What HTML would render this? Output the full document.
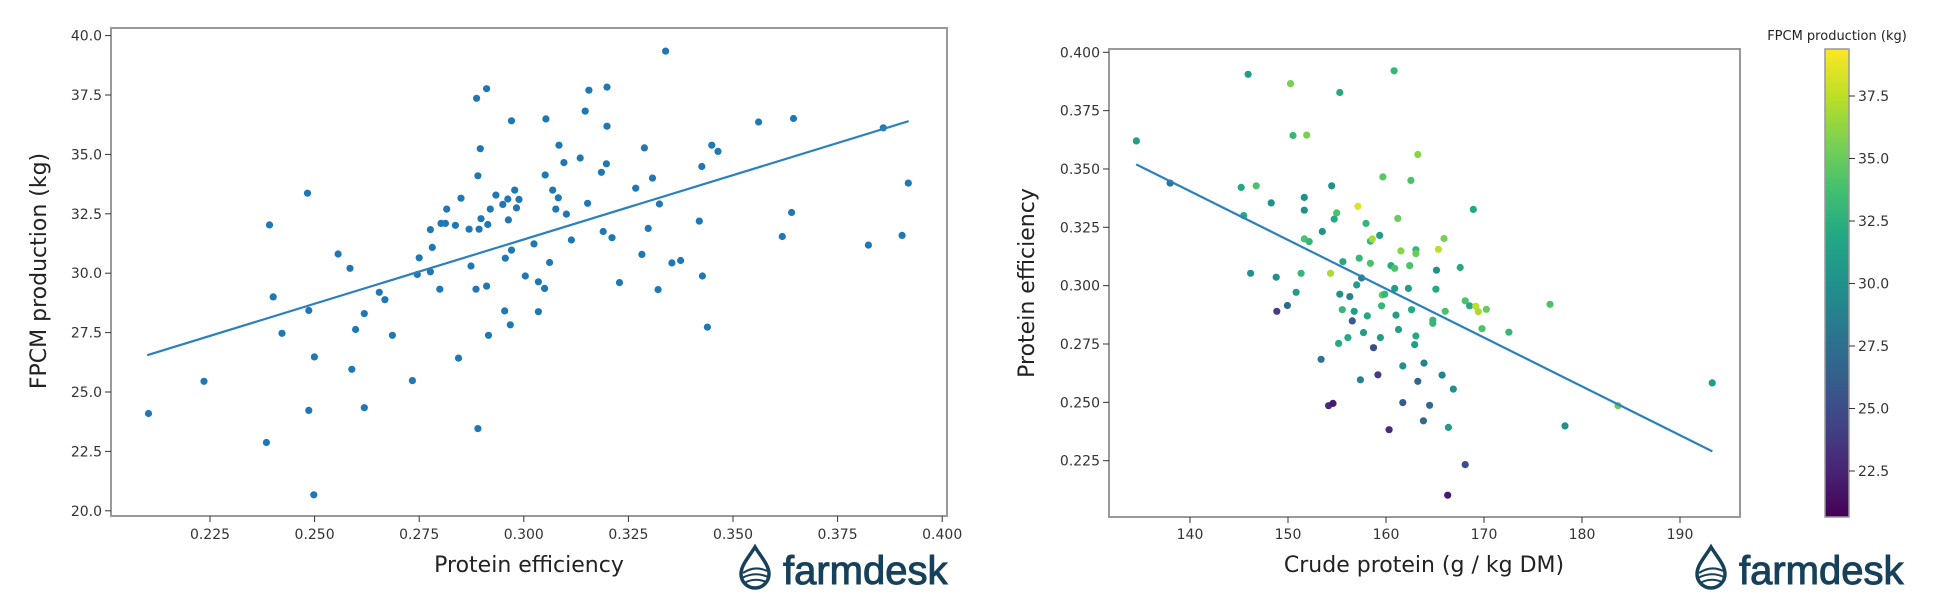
<!DOCTYPE html>
<html><head><meta charset="utf-8"><style>
html,body{margin:0;padding:0;background:#fff;}
svg{display:block;font-family:"DejaVu Sans","Liberation Sans",sans-serif;}
</style></head><body>
<svg id="s" width="1946" height="604" viewBox="0 0 1946 604" xmlns="http://www.w3.org/2000/svg">
<defs>
<linearGradient id="vir" x1="0" y1="1" x2="0" y2="0">
<stop offset="0" stop-color="#440154"/><stop offset="0.1" stop-color="#482475"/><stop offset="0.2" stop-color="#414487"/><stop offset="0.3" stop-color="#355f8d"/><stop offset="0.4" stop-color="#2a788e"/><stop offset="0.5" stop-color="#21918c"/><stop offset="0.6" stop-color="#22a884"/><stop offset="0.7" stop-color="#44bf70"/><stop offset="0.8" stop-color="#7ad151"/><stop offset="0.9" stop-color="#bddf26"/><stop offset="1" stop-color="#fde725"/>
</linearGradient>
</defs>
<g id="L"></g>
<g id="R"></g>
<rect x="111" y="28" width="836" height="488" fill="none" stroke="#999" stroke-width="2"/>
<rect x="1109" y="49" width="631" height="468" fill="none" stroke="#999" stroke-width="2"/>
<rect x="1825" y="49" width="24" height="468" fill="url(#vir)" stroke="#999" stroke-width="1.5"/>
<text x="1837" y="40" font-size="13" text-anchor="middle" fill="#222">FPCM production (kg)</text>
<text x="529" y="572" font-size="22" text-anchor="middle" fill="#222">Protein efficiency</text>
<text transform="translate(46,271) rotate(-90)" font-size="22" text-anchor="middle" fill="#222">FPCM production (kg)</text>
<text x="1424" y="572" font-size="22" text-anchor="middle" fill="#222">Crude protein (g / kg DM)</text>
<text transform="translate(1034,283) rotate(-90)" font-size="22" text-anchor="middle" fill="#222">Protein efficiency</text>
<g transform="translate(739,547)">
<path d="M16 0 C10 10 2 18 2 27 A14 14 0 0 0 30 27 C30 18 22 10 16 0 Z" fill="none" stroke="#17415a" stroke-width="3.5"/>
<path d="M4 26 Q16 18 28 24 M3 31 Q16 24 29 30 M5 36 Q16 30 27 35" fill="none" stroke="#17415a" stroke-width="2"/>
<text x="44" y="37" font-family="Liberation Sans,sans-serif" font-size="40" fill="#17415a" stroke="#17415a" stroke-width="1">farmdesk</text>
</g>
<g transform="translate(1695,547)">
<path d="M16 0 C10 10 2 18 2 27 A14 14 0 0 0 30 27 C30 18 22 10 16 0 Z" fill="none" stroke="#17415a" stroke-width="3.5"/>
<path d="M4 26 Q16 18 28 24 M3 31 Q16 24 29 30 M5 36 Q16 30 27 35" fill="none" stroke="#17415a" stroke-width="2"/>
<text x="44" y="37" font-family="Liberation Sans,sans-serif" font-size="40" fill="#17415a" stroke="#17415a" stroke-width="1">farmdesk</text>
</g>
</svg>
<script>
var NS="http://www.w3.org/2000/svg";
var svg=document.getElementById('s');
function el(n,a,p){var e=document.createElementNS(NS,n);for(var k in a)e.setAttribute(k,a[k]);(p||svg).appendChild(e);return e;}
function txt(x,y,s,anchor,p){var t=el('text',{x:x,y:y,'font-size':14,'text-anchor':anchor,fill:'#333'},p);t.textContent=s;}
function lx(v){return 210+(v-0.225)/0.025*104.6;}
function ly(v){return 35.6+(40-v)/2.5*59.4;}
for(var i=0;i<8;i++){var v=0.225+i*0.025,x=lx(v);el('line',{x1:x,y1:516,x2:x,y2:522,stroke:'#333'});txt(x,539,v.toFixed(3),'middle');}
for(var i=0;i<9;i++){var v=20+i*2.5,y=ly(v);el('line',{x1:105,y1:y,x2:111,y2:y,stroke:'#333'});txt(102,y+5,v.toFixed(1),'end');}
var LP=[[238,1068],[327,985],[427,1143],[432,581],[438,767],[452,861],[493,499],[495,802],[495,1060],[504,922],[503,1278],[542,656],[561,693],[564,954],[570,851],[584,810],[584,1053],[608,755],[617,774],[629,866],[661,983],[669,709],[672,666],[690,593],[690,702],[693,639],[705,747],[707,577],[714,577],[716,540],[730,582],[735,925],[739,512],[752,592],[755,687],[764,254],[766,454],[763,747],[766,1107],[768,592],[770,384],[771,565],[780,229],[782,580],[780,739],[783,866],[786,540],[795,504],[806,528],[809,803],[810,667],[814,514],[815,568],[818,839],[820,312],[820,646],[825,491],[828,537],[832,515],[842,713],[856,630],[863,805],[863,728],[873,745],[875,307],[874,452],[881,678],[886,491],[891,540],[896,375],[895,511],[904,420],[908,553],[916,620],[930,408],[938,287],[942,525],[944,233],[964,445],[967,598],[973,326],[973,225],[972,423],[981,614],[993,730],[1019,486],[1029,657],[1033,382],[1039,590],[1046,460],[1055,748],[1057,527],[1067,132],[1077,679],[1091,673],[1121,571],[1125,430],[1126,713],[1134,845],[1141,375],[1151,391],[1216,315],[1254,611],[1269,549],[1272,306],[1392,633],[1416,330],[1446,608],[1456,473]];
var gL=document.getElementById('L');
LP.forEach(function(p){el('circle',{cx:(p[0]/1.603).toFixed(1),cy:(p[1]/2.583).toFixed(1),r:3.6,fill:'#1f77b4'},gL);});
el('line',{x1:lx(0.21),y1:ly(26.55),x2:lx(0.392),y2:ly(36.4),stroke:'#2b80bd','stroke-width':2.2},gL);
function rx(v){return 1190+(v-140)/10*98;}
function ry(v){return 52.3+(0.4-v)/0.025*58.34;}
for(var i=0;i<6;i++){var v=140+i*10,x=rx(v);el('line',{x1:x,y1:517,x2:x,y2:523,stroke:'#333'});txt(x,539,String(v),'middle');}
for(var i=0;i<8;i++){var v=0.225+i*0.025,y=ry(v);el('line',{x1:1103,y1:y,x2:1109,y2:y,stroke:'#333'});txt(1100,y+5,v.toFixed(3),'end');}
for(var i=0;i<7;i++){var v=22.5+i*2.5,y=96+(37.5-v)/2.5*62.5;el('line',{x1:1849,y1:y,x2:1855,y2:y,stroke:'#333'});txt(1858,y+5,v.toFixed(1),'start');}
var stops=[[68,1,84],[72,36,117],[65,68,135],[53,95,141],[42,120,142],[33,145,140],[34,168,132],[68,191,112],[122,209,81],[189,223,38],[253,231,37]];
function vir(c){var t=(c-20.66)/(39.38-20.66);t=Math.max(0,Math.min(1,t))*10;var i=Math.min(9,Math.floor(t)),f=t-i,a=stops[i],b=stops[i+1];return 'rgb('+[0,1,2].map(function(k){return Math.round(a[k]+(b[k]-a[k])*f);}).join(',')+')';}
var RP=[[262,364,31],[316,473,28],[441,192,31],[445,706,30],[430,484,32],[434,557,32],[454,480,34],[478,524,30],[486,716,30],[487,804,24],[504,789,27],[509,216,35.5],[513,350,33],[518,755,31],[531,510,30],[531,543,30],[531,617,34],[526,706,33],[535,349,35.5],[539,624,33],[560,598,30],[558,928,28],[570,1048,23],[577,1042,22],[573,706,37],[575,480,30],[579,566,32],[583,550,34],[588,239,32],[586,887,32],[588,760,30],[592,800,33],[593,676,32],[601,872,32],[604,766,29],[608,829,26],[611,804,31],[617,533,38.5],[615,736,31],[619,667,33],[621,981,29],[623,718,29],[626,859,31],[630,577,33],[632,816,32],[637,623,33],[640,617,37],[637,680,34],[642,898,25],[649,968,24],[652,608,31],[653,872,31],[655,790,33],[657,457,34.5],[656,762,35],[660,760,33],[667,1110,23],[670,686,32],[675,183,33],[676,693,34],[676,745,31],[678,814,31],[681,564,35],[682,851,31],[686,648,36],[689,1040,26],[689,945,30],[698,745,31],[700,686,34],[702,466,34],[703,800,32],[710,645,33],[710,655,35],[708,890,31],[710,868,32],[713,985,27],[713,399,36],[722,1087,27],[723,938,29],[732,1047,27],[737,835,33],[737,827,33],[742,747,32],[743,698,30],[746,644,37.5],[752,969,29],[755,616,35.5],[757,804,34],[761,1279,22],[762,1104,31],[770,1005,30],[781,691,32],[789,777,34],[789,1200,25],[796,790,32],[802,541,32],[806,791,37.5],[810,805,37],[816,849,34],[823,799,35],[859,858,33],[925,786,34],[949,1100,30],[1034,1048,35],[1185,989,31]];
var gR=document.getElementById('R');
RP.forEach(function(p){el('circle',{cx:(p[0]/1.603+973).toFixed(1),cy:(p[1]/2.583).toFixed(1),r:3.6,fill:vir(p[2])},gR);});
el('line',{x1:rx(134.5),y1:ry(0.352),x2:rx(193.3),y2:ry(0.229),stroke:'#2b80bd','stroke-width':2.2},gR);
</script>
</body></html>
